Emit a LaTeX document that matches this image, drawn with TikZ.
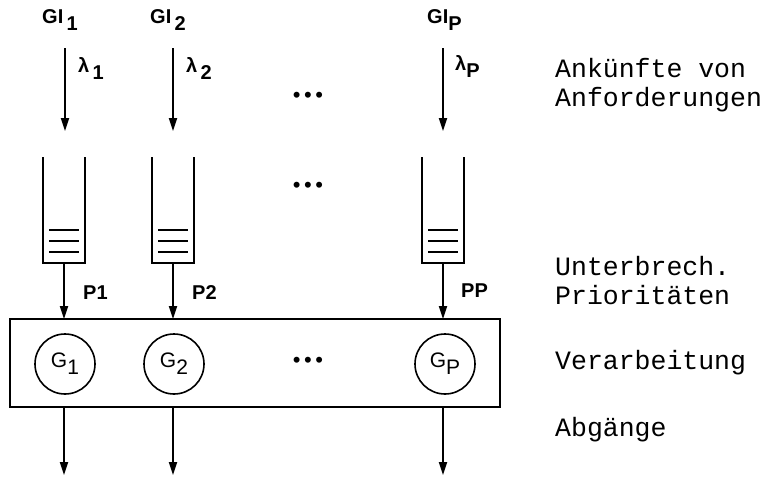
\documentclass[tikz,border=0pt]{standalone}
\usepackage{fontspec}
\setmainfont{Liberation Sans}
\newfontfamily\monofont{Liberation Mono}
\usetikzlibrary{arrows.meta}
\tikzset{
  flow/.style={line width=1.8pt,-{Triangle[length=13pt,width=8pt]}},
  qline/.style={line width=1.8pt},
  fillline/.style={line width=1.6pt},
  lab/.style={font=\fontsize{20}{22}\selectfont\bfseries,inner sep=0pt},
  side/.style={font=\fontsize{26.5}{29}\selectfont\monofont,anchor=west,align=left,inner sep=0pt},
  srv/.style={draw,circle,line width=1.6pt,minimum size=60pt,inner sep=0pt,font=\fontsize{21}{22}\selectfont},
  dotsn/.style={inner sep=0pt,font=\fontsize{22}{22}\selectfont}
}
\newcommand{\lowsub}[1]{\raisebox{-7pt}{#1}}
\newcommand{\dotrow}{\textbullet\hspace{3.5pt}\textbullet\hspace{3.5pt}\textbullet}
\begin{document}
\begin{tikzpicture}[x=1pt,y=-1pt]
\useasboundingbox (0,0) rectangle (765,477);
% source labels
\node[lab,anchor=west] (gi1) at (42,20) {GI\lowsub{\,1}};
\node[lab,anchor=west] (gi2) at (150,20) {GI\lowsub{\,2}};
\node[lab,anchor=west] (gip) at (427,20) {GI\lowsub{P}};
% arrival rates
\node[lab,anchor=west] (l1) at (78,68) {λ\lowsub{\,1}};
\node[lab,anchor=west] (l2) at (186,68) {λ\lowsub{\,2}};
\node[lab,anchor=west] (lp) at (455,66) {λ\lowsub{P}};
% arrival arrows
\coordinate (a1s) at (65,48); \coordinate (a1e) at (65,131);
\coordinate (a2s) at (173,48); \coordinate (a2e) at (173,131);
\coordinate (aps) at (443,48); \coordinate (ape) at (443,131);
\draw[flow] (a1s) -- (a1e);
\draw[flow] (a2s) -- (a2e);
\draw[flow] (aps) -- (ape);
% dots
\node[dotsn] (d1) at (308,97) {\dotrow};
\node[dotsn] (d2) at (308,187) {\dotrow};
% queues
\foreach \c/\n in {64/1,173/2,443/p}{
  \draw[qline] (\c-21,157) -- (\c-21,263) -- (\c+21,263) -- (\c+21,157);
  \foreach \yy in {230,241,252}{
    \draw[fillline] (\c-15,\yy) -- (\c+15,\yy);
  }
  \coordinate (q\n) at (\c,263);
}
% processor box
\node[draw,line width=1.8pt,minimum width=490pt,minimum height=88pt,inner sep=0pt] (box) at (255,363) {};
\coordinate (b1) at (64,319); \coordinate (b2) at (173,319); \coordinate (bp) at (443,319);
\draw[flow] (q1) -- (b1);
\draw[flow] (q2) -- (b2);
\draw[flow] (qp) -- (bp);
\node[lab,anchor=west] (p1) at (83,293) {P1};
\node[lab,anchor=west] (p2) at (192,293) {P2};
\node[lab,anchor=west] (pp) at (461,291) {PP};
% servers
\node[srv] (g1) at (65,364) {G\lowsub{1}};
\node[srv] (g2) at (174,364) {G\lowsub{2}};
\node[srv] (gp) at (445,364) {G\lowsub{P}};
\node[dotsn] (d3) at (308,362) {\dotrow};
% departures
\coordinate (o1s) at (64,407); \coordinate (o1e) at (64,475);
\coordinate (o2s) at (173,407); \coordinate (o2e) at (173,475);
\coordinate (ops) at (443,407); \coordinate (ope) at (443,475);
\draw[flow] (o1s) -- (o1e);
\draw[flow] (o2s) -- (o2e);
\draw[flow] (ops) -- (ope);
% side texts
\node[side] (t1) at (555,85) {Ankünfte von\\Anforderungen};
\node[side] (t2) at (555,281) {Unterbrech.\\Prioritäten};
\node[side] (t3) at (555,363) {Verarbeitung};
\node[side] (t4) at (555,430) {Abgänge};
\end{tikzpicture}
\end{document}
